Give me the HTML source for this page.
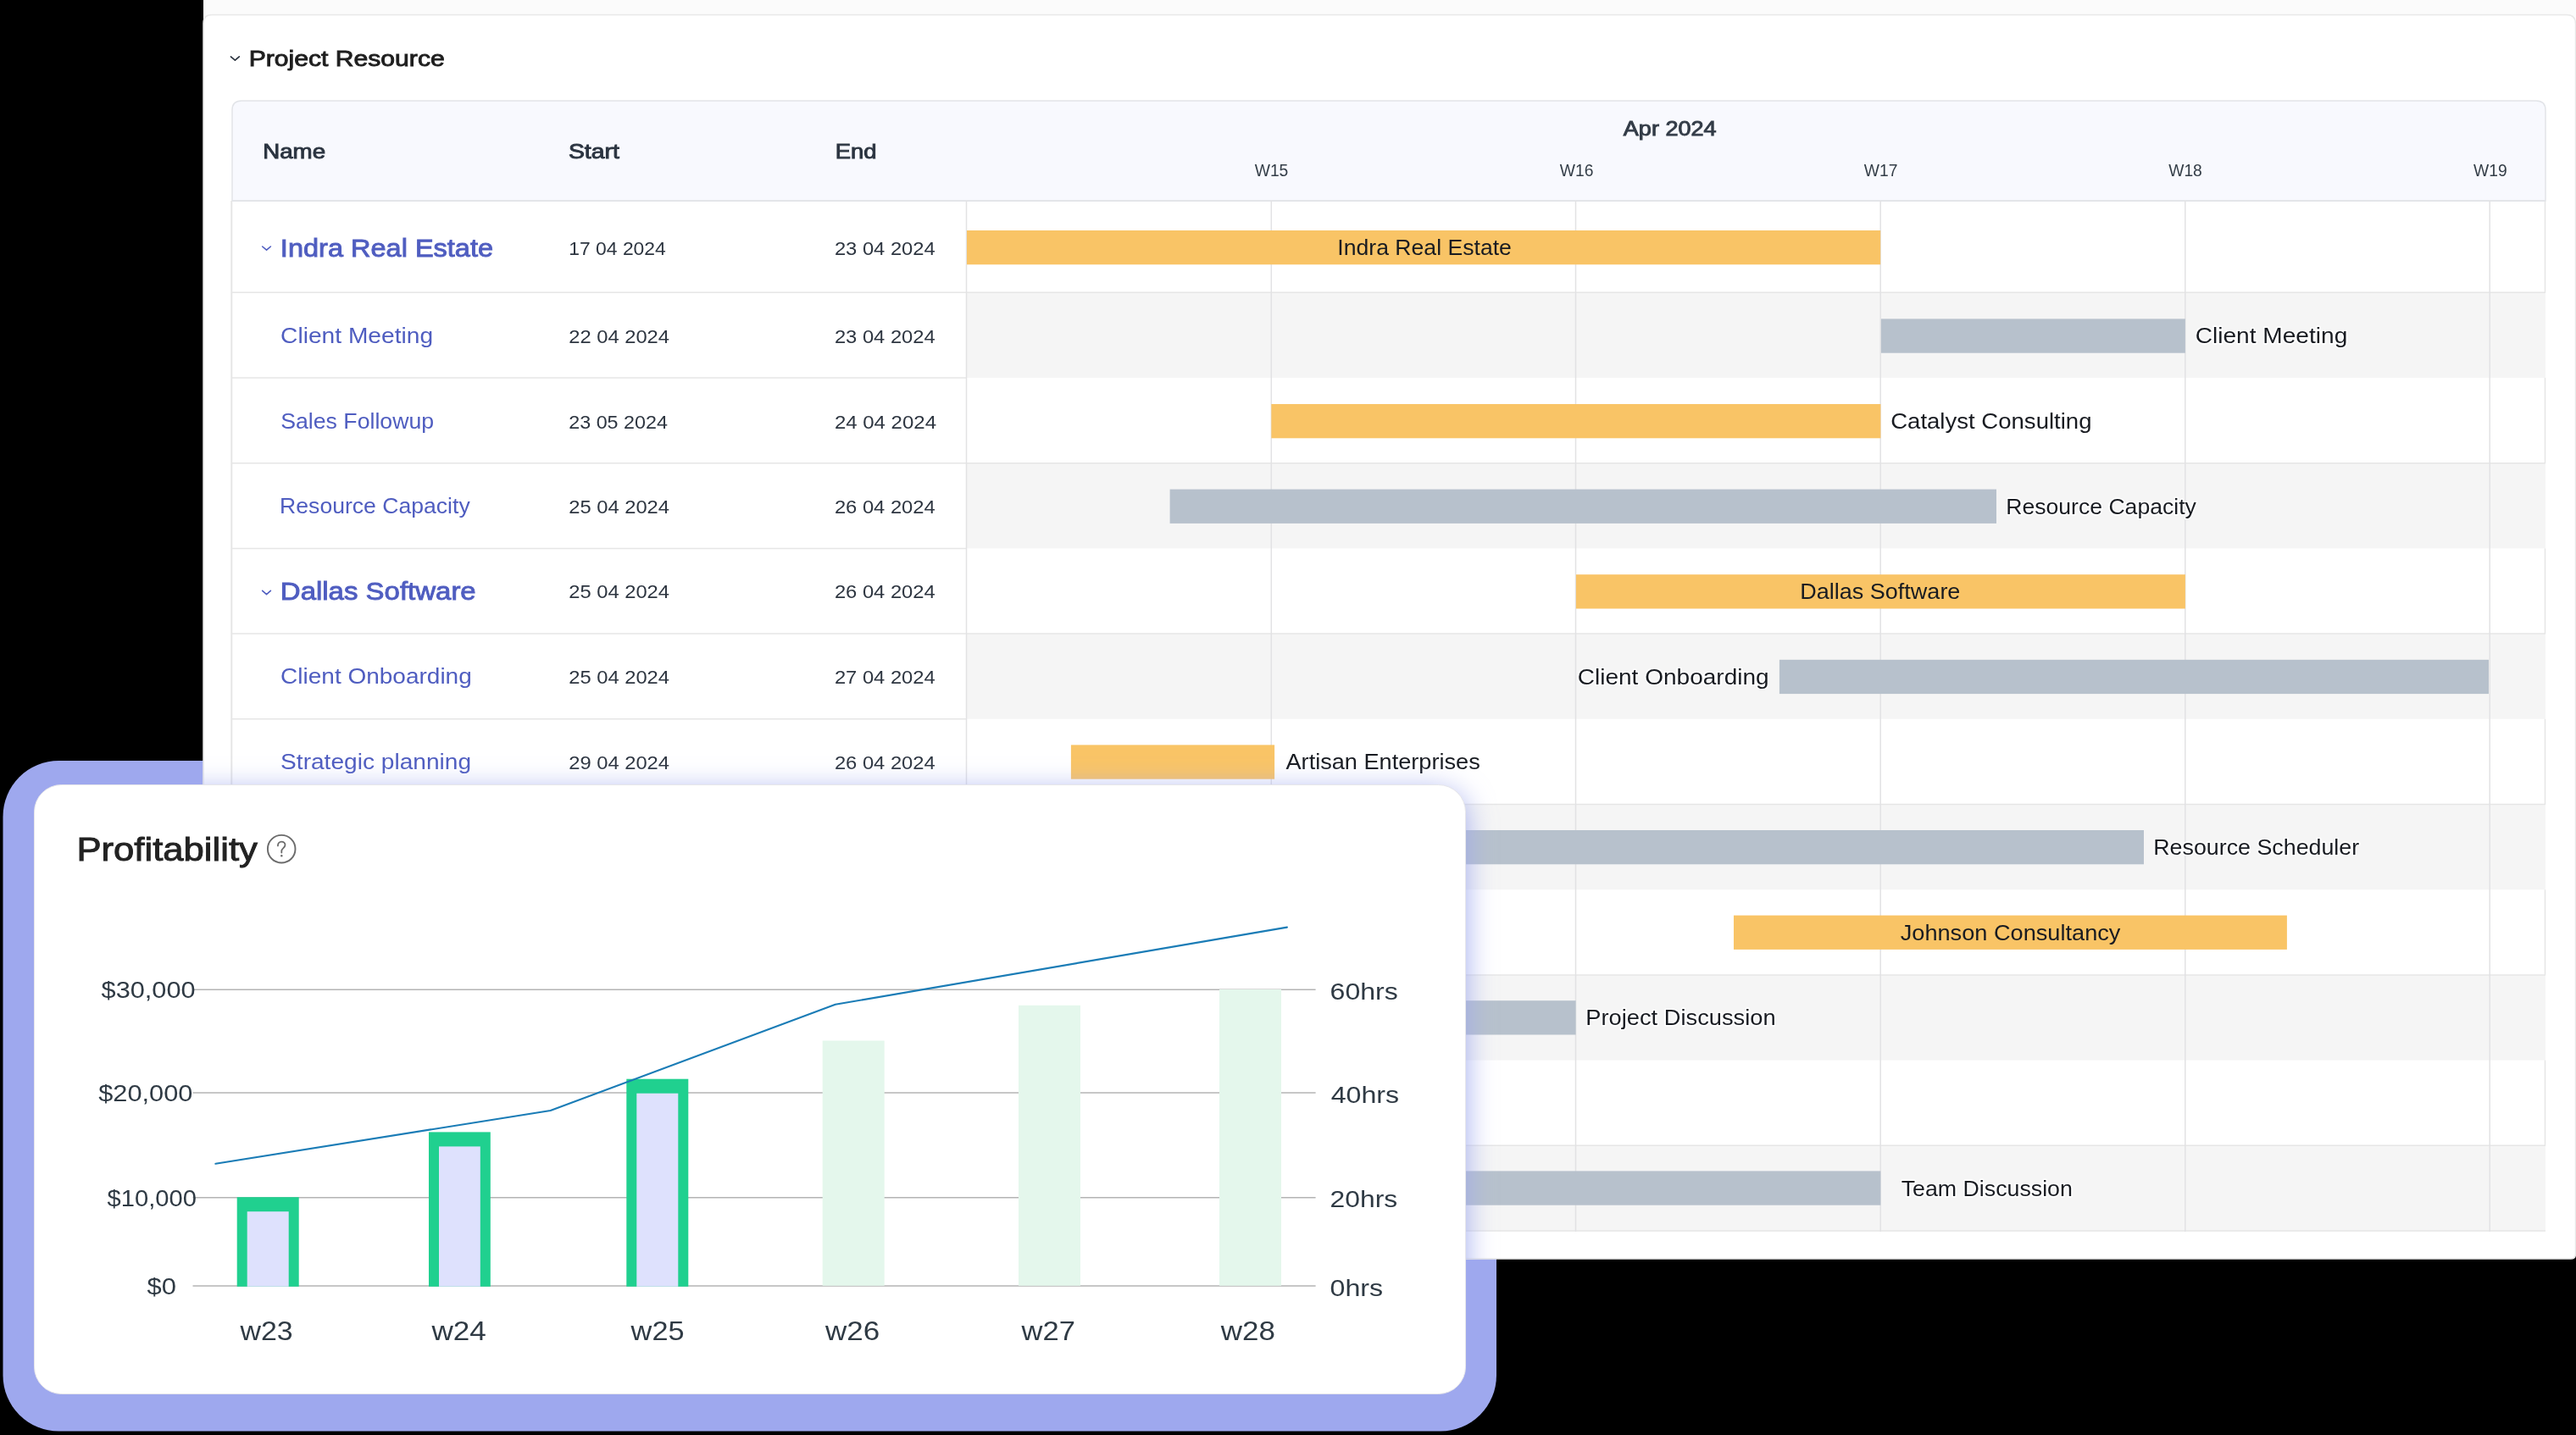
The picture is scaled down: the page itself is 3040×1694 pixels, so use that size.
<!DOCTYPE html><html><head><meta charset="utf-8"><style>html,body{margin:0;padding:0;background:#000;width:3040px;height:1694px;overflow:hidden}svg{display:block;will-change:transform}text{font-family:"Liberation Sans",sans-serif}</style></head><body>
<svg width="3040" height="1694" viewBox="0 0 3040 1694">
<defs>
<clipPath id="panelclip"><rect x="240" y="0" width="2800" height="1486"/></clipPath>
<filter id="sh" x="-10%" y="-20%" width="120%" height="140%"><feGaussianBlur stdDeviation="17"/></filter>
</defs>
<rect x="0" y="0" width="3040" height="1694" fill="#000"/>
<rect x="3.5" y="898" width="1762.5" height="791.5" rx="66" fill="#9ea8ee"/>
<rect x="240" y="0" width="2800" height="60" fill="#fbfbfb"/>
<path d="M240 1486 L240 27.5 Q240 17.5 250 17.5 L3029 17.5 Q3039.5 17.5 3039.5 28 L3039.5 1480 Q3039.5 1486 3034 1486 Z" fill="#fff" stroke="#e8e8e8" stroke-width="1.5"/>
<path d="M274 237 L274 130 Q274 119 285 119 L2993 119 Q3004 119 3004 130 L3004 237 Z" fill="#f8f9fe" stroke="#e2e4e8" stroke-width="1.5"/>
<rect x="1141" y="345.3" width="1863" height="100.7" fill="#f5f5f5"/>
<rect x="1141" y="546.7" width="1863" height="100.7" fill="#f5f5f5"/>
<rect x="1141" y="748.1" width="1863" height="100.7" fill="#f5f5f5"/>
<rect x="1141" y="949.5" width="1863" height="100.7" fill="#f5f5f5"/>
<rect x="1141" y="1150.9" width="1863" height="100.7" fill="#f5f5f5"/>
<rect x="1141" y="1352.3" width="1863" height="100.7" fill="#f5f5f5"/>
<line x1="274" y1="345.3" x2="1141" y2="345.3" stroke="#e6e6e6" stroke-width="1.5"/>
<line x1="1141" y1="345.3" x2="3004" y2="345.3" stroke="#e6e6e6" stroke-width="1.5"/>
<line x1="274" y1="446.0" x2="1141" y2="446.0" stroke="#e6e6e6" stroke-width="1.5"/>
<line x1="274" y1="546.7" x2="1141" y2="546.7" stroke="#e6e6e6" stroke-width="1.5"/>
<line x1="1141" y1="546.7" x2="3004" y2="546.7" stroke="#e6e6e6" stroke-width="1.5"/>
<line x1="274" y1="647.4" x2="1141" y2="647.4" stroke="#e6e6e6" stroke-width="1.5"/>
<line x1="274" y1="748.1" x2="1141" y2="748.1" stroke="#e6e6e6" stroke-width="1.5"/>
<line x1="1141" y1="748.1" x2="3004" y2="748.1" stroke="#e6e6e6" stroke-width="1.5"/>
<line x1="274" y1="848.8" x2="1141" y2="848.8" stroke="#e6e6e6" stroke-width="1.5"/>
<line x1="274" y1="949.5" x2="1141" y2="949.5" stroke="#e6e6e6" stroke-width="1.5"/>
<line x1="1141" y1="949.5" x2="3004" y2="949.5" stroke="#e6e6e6" stroke-width="1.5"/>
<line x1="274" y1="1050.2" x2="1141" y2="1050.2" stroke="#e6e6e6" stroke-width="1.5"/>
<line x1="274" y1="1150.9" x2="1141" y2="1150.9" stroke="#e6e6e6" stroke-width="1.5"/>
<line x1="1141" y1="1150.9" x2="3004" y2="1150.9" stroke="#e6e6e6" stroke-width="1.5"/>
<line x1="274" y1="1251.6" x2="1141" y2="1251.6" stroke="#e6e6e6" stroke-width="1.5"/>
<line x1="274" y1="1352.3" x2="1141" y2="1352.3" stroke="#e6e6e6" stroke-width="1.5"/>
<line x1="1141" y1="1352.3" x2="3004" y2="1352.3" stroke="#e6e6e6" stroke-width="1.5"/>
<line x1="274" y1="1453.0" x2="1141" y2="1453.0" stroke="#e6e6e6" stroke-width="1.5"/>
<line x1="1141" y1="1453.0" x2="3004" y2="1453.0" stroke="#e6e6e6" stroke-width="1.5"/>
<line x1="3003.5" y1="237.0" x2="3003.5" y2="345.3" stroke="#e6e6e6" stroke-width="1.5"/>
<line x1="3003.5" y1="446.0" x2="3003.5" y2="546.7" stroke="#e6e6e6" stroke-width="1.5"/>
<line x1="3003.5" y1="647.4" x2="3003.5" y2="748.1" stroke="#e6e6e6" stroke-width="1.5"/>
<line x1="3003.5" y1="848.8" x2="3003.5" y2="949.5" stroke="#e6e6e6" stroke-width="1.5"/>
<line x1="3003.5" y1="1050.2" x2="3003.5" y2="1150.9" stroke="#e6e6e6" stroke-width="1.5"/>
<line x1="3003.5" y1="1251.6" x2="3003.5" y2="1352.3" stroke="#e6e6e6" stroke-width="1.5"/>
<line x1="274" y1="237.2" x2="3004" y2="237.2" stroke="#e2e4e8" stroke-width="1.5"/>
<line x1="273.3" y1="237" x2="273.3" y2="1454" stroke="#e6e6e6" stroke-width="2"/>
<line x1="1140.5" y1="237" x2="1140.5" y2="1454" stroke="#e2e2e4" stroke-width="1.5"/>
<line x1="1500.3" y1="237" x2="1500.3" y2="1454" stroke="#e2e2e4" stroke-width="1.5"/>
<line x1="1859.5" y1="237" x2="1859.5" y2="1454" stroke="#e2e2e4" stroke-width="1.5"/>
<line x1="2219.2" y1="237" x2="2219.2" y2="1454" stroke="#e2e2e4" stroke-width="1.5"/>
<line x1="2578.8" y1="237" x2="2578.8" y2="1454" stroke="#e2e2e4" stroke-width="1.5"/>
<line x1="2938.2" y1="237" x2="2938.2" y2="1454" stroke="#e2e2e4" stroke-width="1.5"/>
<rect x="1141.0" y="272.0" width="1078.2" height="40.3" fill="#f9c466"/>
<rect x="2219.9" y="376.4" width="359.0" height="40.3" fill="#b7c1cc"/>
<rect x="1500.3" y="477.0" width="719.1" height="40.3" fill="#f9c466"/>
<rect x="1380.6" y="577.6" width="975.4" height="40.3" fill="#b7c1cc"/>
<rect x="1859.9" y="678.2" width="719.0" height="40.3" fill="#f9c466"/>
<rect x="2099.9" y="778.8" width="837.1" height="40.3" fill="#b7c1cc"/>
<rect x="1263.9" y="879.4" width="240.2" height="40.3" fill="#f9c466"/>
<rect x="1500.0" y="980.0" width="1030.0" height="40.3" fill="#b7c1cc"/>
<rect x="2046.0" y="1080.6" width="652.9" height="40.3" fill="#f9c466"/>
<rect x="1500.0" y="1181.2" width="359.6" height="40.3" fill="#b7c1cc"/>
<rect x="1500.0" y="1382.4" width="719.4" height="40.3" fill="#b7c1cc"/>
<path d="M272.4 66.9 L277.4 71.2 L282.3 66.9" fill="none" stroke="#28303c" stroke-width="1.6" stroke-linecap="round" stroke-linejoin="round"/>
<path d="M309.65 291.00 L314.55 295.20 L319.4 291.00" fill="none" stroke="#4f5dc0" stroke-width="1.6" stroke-linecap="round" stroke-linejoin="round"/>
<path d="M309.65 697.35 L314.55 701.55 L319.4 697.35" fill="none" stroke="#4f5dc0" stroke-width="1.6" stroke-linecap="round" stroke-linejoin="round"/>
<text x="293.67" y="77.60" font-size="25.87" fill="#1e1e1e" textLength="231.07" lengthAdjust="spacingAndGlyphs" stroke="#1e1e1e" stroke-width="0.90">Project Resource</text>
<text x="310.22" y="186.90" font-size="23.40" fill="#2b3440" textLength="73.88" lengthAdjust="spacingAndGlyphs" stroke="#2b3440" stroke-width="0.90">Name</text>
<text x="670.90" y="187.30" font-size="23.69" fill="#2b3440" textLength="60.00" lengthAdjust="spacingAndGlyphs" stroke="#2b3440" stroke-width="0.90">Start</text>
<text x="985.84" y="187.30" font-size="23.69" fill="#2b3440" textLength="48.71" lengthAdjust="spacingAndGlyphs" stroke="#2b3440" stroke-width="0.90">End</text>
<text x="1915.80" y="159.75" font-size="23.40" fill="#333c47" textLength="109.81" lengthAdjust="spacingAndGlyphs" stroke="#333c47" stroke-width="0.90">Apr 2024</text>
<text x="1480.70" y="208.20" font-size="19.91" fill="#333d47" textLength="39.67" lengthAdjust="spacingAndGlyphs">W15</text>
<text x="1840.80" y="208.20" font-size="19.91" fill="#333d47" textLength="39.67" lengthAdjust="spacingAndGlyphs">W16</text>
<text x="2199.80" y="208.20" font-size="19.91" fill="#333d47" textLength="39.67" lengthAdjust="spacingAndGlyphs">W17</text>
<text x="2559.20" y="208.20" font-size="19.91" fill="#333d47" textLength="39.67" lengthAdjust="spacingAndGlyphs">W18</text>
<text x="2919.10" y="208.20" font-size="19.91" fill="#333d47" textLength="39.67" lengthAdjust="spacingAndGlyphs">W19</text>
<text x="330.87" y="303.00" font-size="29.22" fill="#4f5dc0" textLength="251.22" lengthAdjust="spacingAndGlyphs" stroke="#4f5dc0" stroke-width="0.90">Indra Real Estate</text>
<text x="671.27" y="300.60" font-size="22.24" fill="#2d3540" textLength="114.51" lengthAdjust="spacingAndGlyphs">17 04 2024</text>
<text x="984.93" y="300.60" font-size="22.24" fill="#2d3540" textLength="118.76" lengthAdjust="spacingAndGlyphs">23 04 2024</text>
<text x="331.10" y="405.20" font-size="25.58" fill="#4f5dc0" textLength="179.95" lengthAdjust="spacingAndGlyphs">Client Meeting</text>
<text x="671.23" y="405.00" font-size="22.24" fill="#2d3540" textLength="118.76" lengthAdjust="spacingAndGlyphs">22 04 2024</text>
<text x="984.93" y="405.00" font-size="22.24" fill="#2d3540" textLength="118.76" lengthAdjust="spacingAndGlyphs">23 04 2024</text>
<text x="331.16" y="505.70" font-size="25.58" fill="#4f5dc0" textLength="180.98" lengthAdjust="spacingAndGlyphs">Sales Followup</text>
<text x="671.25" y="505.50" font-size="22.24" fill="#2d3540" textLength="116.63" lengthAdjust="spacingAndGlyphs">23 05 2024</text>
<text x="984.92" y="505.50" font-size="22.24" fill="#2d3540" textLength="120.07" lengthAdjust="spacingAndGlyphs">24 04 2024</text>
<text x="330.12" y="606.20" font-size="25.58" fill="#4f5dc0" textLength="224.56" lengthAdjust="spacingAndGlyphs">Resource Capacity</text>
<text x="671.23" y="606.00" font-size="22.24" fill="#2d3540" textLength="118.76" lengthAdjust="spacingAndGlyphs">25 04 2024</text>
<text x="984.93" y="606.00" font-size="22.24" fill="#2d3540" textLength="118.76" lengthAdjust="spacingAndGlyphs">26 04 2024</text>
<text x="330.84" y="707.90" font-size="29.22" fill="#4f5dc0" textLength="230.87" lengthAdjust="spacingAndGlyphs" stroke="#4f5dc0" stroke-width="0.90">Dallas Software</text>
<text x="671.23" y="706.30" font-size="22.24" fill="#2d3540" textLength="118.76" lengthAdjust="spacingAndGlyphs">25 04 2024</text>
<text x="984.93" y="706.30" font-size="22.24" fill="#2d3540" textLength="118.76" lengthAdjust="spacingAndGlyphs">26 04 2024</text>
<text x="331.11" y="807.20" font-size="25.58" fill="#4f5dc0" textLength="225.64" lengthAdjust="spacingAndGlyphs">Client Onboarding</text>
<text x="671.23" y="807.00" font-size="22.24" fill="#2d3540" textLength="118.76" lengthAdjust="spacingAndGlyphs">25 04 2024</text>
<text x="984.93" y="807.00" font-size="22.24" fill="#2d3540" textLength="118.76" lengthAdjust="spacingAndGlyphs">27 04 2024</text>
<text x="331.10" y="907.70" font-size="25.58" fill="#4f5dc0" textLength="224.94" lengthAdjust="spacingAndGlyphs">Strategic planning</text>
<text x="671.23" y="907.50" font-size="22.24" fill="#2d3540" textLength="118.76" lengthAdjust="spacingAndGlyphs">29 04 2024</text>
<text x="984.93" y="907.50" font-size="22.24" fill="#2d3540" textLength="118.76" lengthAdjust="spacingAndGlyphs">26 04 2024</text>
<text x="1578.36" y="300.50" font-size="24.85" fill="#181b21" textLength="205.52" lengthAdjust="spacingAndGlyphs">Indra Real Estate</text>
<text x="2590.67" y="405.20" font-size="24.85" fill="#181b21" textLength="179.66" lengthAdjust="spacingAndGlyphs" stroke="#fff" stroke-width="3" stroke-linejoin="round" paint-order="stroke">Client Meeting</text>
<text x="2231.19" y="505.80" font-size="24.85" fill="#181b21" textLength="237.31" lengthAdjust="spacingAndGlyphs" stroke="#fff" stroke-width="3" stroke-linejoin="round" paint-order="stroke">Catalyst Consulting</text>
<text x="2367.26" y="606.70" font-size="24.85" fill="#181b21" textLength="224.62" lengthAdjust="spacingAndGlyphs" stroke="#fff" stroke-width="3" stroke-linejoin="round" paint-order="stroke">Resource Capacity</text>
<text x="2124.33" y="706.70" font-size="24.85" fill="#181b21" textLength="189.06" lengthAdjust="spacingAndGlyphs">Dallas Software</text>
<text x="1861.77" y="807.60" font-size="24.85" fill="#181b21" textLength="225.85" lengthAdjust="spacingAndGlyphs" stroke="#fff" stroke-width="3" stroke-linejoin="round" paint-order="stroke">Client Onboarding</text>
<text x="1517.50" y="908.00" font-size="24.85" fill="#181b21" textLength="229.26" lengthAdjust="spacingAndGlyphs" stroke="#fff" stroke-width="3" stroke-linejoin="round" paint-order="stroke">Artisan Enterprises</text>
<text x="2541.24" y="1009.20" font-size="24.85" fill="#181b21" textLength="242.95" lengthAdjust="spacingAndGlyphs" stroke="#fff" stroke-width="3" stroke-linejoin="round" paint-order="stroke">Resource Scheduler</text>
<text x="2242.70" y="1109.80" font-size="24.85" fill="#181b21" textLength="259.77" lengthAdjust="spacingAndGlyphs">Johnson Consultancy</text>
<text x="1871.30" y="1210.20" font-size="24.85" fill="#181b21" textLength="224.29" lengthAdjust="spacingAndGlyphs" stroke="#fff" stroke-width="3" stroke-linejoin="round" paint-order="stroke">Project Discussion</text>
<text x="2243.70" y="1411.50" font-size="24.85" fill="#181b21" textLength="202.18" lengthAdjust="spacingAndGlyphs" stroke="#fff" stroke-width="3" stroke-linejoin="round" paint-order="stroke">Team Discussion</text>
<g clip-path="url(#panelclip)"><rect x="40.5" y="934" width="1689" height="719" rx="32" fill="#9ea8ee" filter="url(#sh)"/></g>
<rect x="40.5" y="926.5" width="1689" height="719" rx="32" fill="#fff" stroke="#e6e6ea" stroke-width="1"/>
<circle cx="332.2" cy="1002.2" r="16.3" fill="none" stroke="#6b6b6b" stroke-width="1.9"/>
<path d="M327.9 998.4 C327.9 995.4 329.9 993.6 332.2 993.6 C334.6 993.6 336.5 995.4 336.5 997.6 C336.5 1000.8 332.3 1001.4 332.3 1004.6 L332.3 1006.6" fill="none" stroke="#6b6b6b" stroke-width="1.8" stroke-linecap="round"/>
<circle cx="332.3" cy="1010.3" r="1.2" fill="#6b6b6b"/>
<line x1="227.5" y1="1168.3" x2="1552.6" y2="1168.3" stroke="#b4b4b4" stroke-width="1.6"/>
<line x1="227.5" y1="1290.0" x2="1552.6" y2="1290.0" stroke="#b4b4b4" stroke-width="1.6"/>
<line x1="227.5" y1="1413.7" x2="1552.6" y2="1413.7" stroke="#b4b4b4" stroke-width="1.6"/>
<line x1="227.5" y1="1518.0" x2="1552.6" y2="1518.0" stroke="#b4b4b4" stroke-width="1.6"/>
<rect x="279.7" y="1413.2" width="73.0" height="105.6" fill="#20d08f"/>
<rect x="291.7" y="1430.2" width="49.0" height="88.6" fill="#dee1fd"/>
<rect x="506.0" y="1336.4" width="72.8" height="182.4" fill="#20d08f"/>
<rect x="518.0" y="1353.4" width="48.8" height="165.4" fill="#dee1fd"/>
<rect x="739.3" y="1273.7" width="73.0" height="245.1" fill="#20d08f"/>
<rect x="751.3" y="1290.7" width="49.0" height="228.1" fill="#dee1fd"/>
<rect x="970.7" y="1228.5" width="73.0" height="289.3" fill="#e4f7ec"/>
<rect x="1202.0" y="1186.8" width="73.0" height="331.0" fill="#e4f7ec"/>
<rect x="1439.0" y="1168.0" width="73.0" height="349.8" fill="#e4f7ec"/>
<polyline points="254.4,1373.8 649.6,1311.0 985.8,1185.8 1518.9,1094.6" fill="none" stroke="#1a7cb6" stroke-width="2.1" stroke-linecap="round" stroke-linejoin="round"/>
<text x="90.41" y="1016.00" font-size="38.66" fill="#222222" textLength="213.53" lengthAdjust="spacingAndGlyphs" stroke="#222222" stroke-width="0.90">Profitability</text>
<text x="119.60" y="1177.90" font-size="27.62" fill="#2f3a44" textLength="110.99" lengthAdjust="spacingAndGlyphs">$30,000</text>
<text x="116.20" y="1299.80" font-size="27.62" fill="#2f3a44" textLength="111.20" lengthAdjust="spacingAndGlyphs">$20,000</text>
<text x="126.50" y="1423.50" font-size="27.62" fill="#2f3a44" textLength="105.37" lengthAdjust="spacingAndGlyphs">$10,000</text>
<text x="173.50" y="1527.50" font-size="27.62" fill="#2f3a44" textLength="34.40" lengthAdjust="spacingAndGlyphs">$0</text>
<text x="1569.57" y="1180.40" font-size="28.34" fill="#2f3a44" textLength="80.32" lengthAdjust="spacingAndGlyphs">60hrs</text>
<text x="1570.70" y="1301.60" font-size="28.34" fill="#2f3a44" textLength="80.49" lengthAdjust="spacingAndGlyphs">40hrs</text>
<text x="1569.58" y="1425.00" font-size="28.34" fill="#2f3a44" textLength="79.61" lengthAdjust="spacingAndGlyphs">20hrs</text>
<text x="1569.56" y="1529.70" font-size="28.34" fill="#2f3a44" textLength="62.62" lengthAdjust="spacingAndGlyphs">0hrs</text>
<text x="283.50" y="1581.60" font-size="30.81" fill="#2f3a44" textLength="62.24" lengthAdjust="spacingAndGlyphs">w23</text>
<text x="509.44" y="1581.60" font-size="30.81" fill="#2f3a44" textLength="64.41" lengthAdjust="spacingAndGlyphs">w24</text>
<text x="744.61" y="1581.60" font-size="30.81" fill="#2f3a44" textLength="62.94" lengthAdjust="spacingAndGlyphs">w25</text>
<text x="974.14" y="1581.60" font-size="30.81" fill="#2f3a44" textLength="64.15" lengthAdjust="spacingAndGlyphs">w26</text>
<text x="1205.62" y="1581.60" font-size="30.81" fill="#2f3a44" textLength="63.34" lengthAdjust="spacingAndGlyphs">w27</text>
<text x="1440.84" y="1581.60" font-size="30.81" fill="#2f3a44" textLength="64.15" lengthAdjust="spacingAndGlyphs">w28</text>
</svg></body></html>
